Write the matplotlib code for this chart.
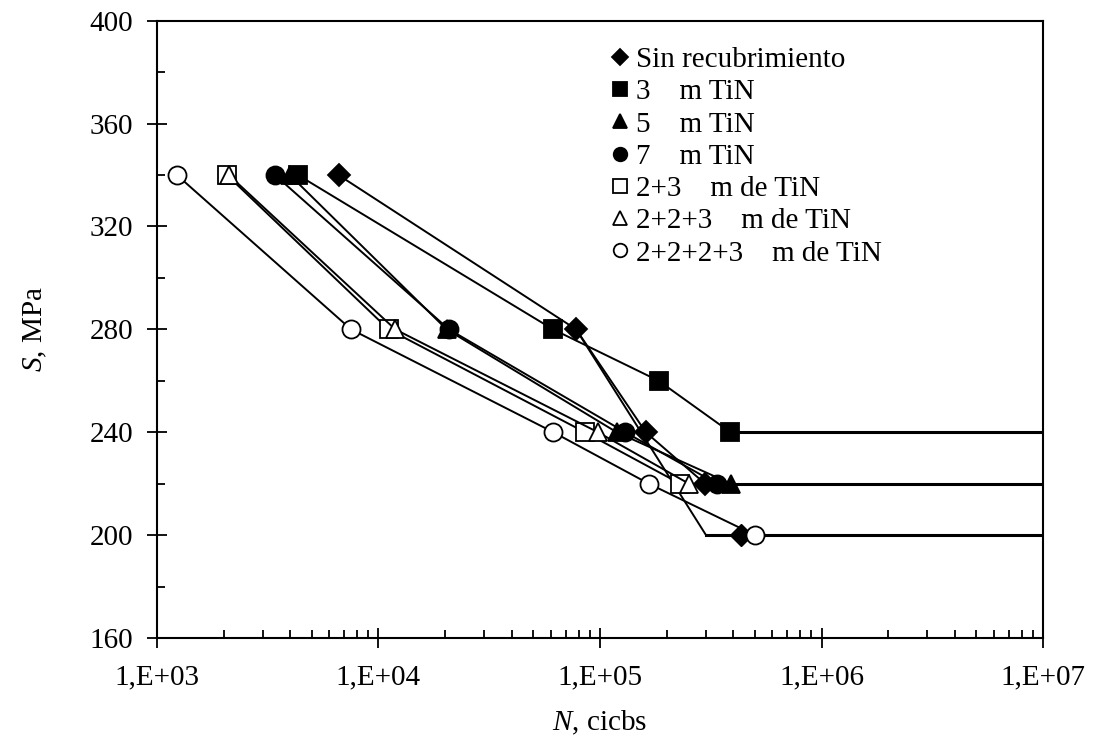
import matplotlib
matplotlib.use("Agg")
import matplotlib.pyplot as plt
from matplotlib.ticker import FixedLocator, LogLocator, NullFormatter, FuncFormatter, MultipleLocator

plt.rcParams['font.family'] = ['Liberation Serif', 'DejaVu Serif']
plt.rcParams['mathtext.fontset'] = 'custom'
plt.rcParams['mathtext.rm'] = 'Liberation Serif'
plt.rcParams['mathtext.it'] = 'Liberation Serif:italic'

# S-N data (cycles to failure, stress amplitude in MPa)
n_sin = [6.6e3, 7.8e4, 1.61e5, 2.98e5]
s_sin = [340, 280, 240, 220]
n_sin_200 = [4.33e5]
s_sin_200 = [200]

n_3um = [4.33e3, 6.14e4, 1.84e5, 3.88e5]
s_3um = [340, 280, 260, 240]

n_5um = [3.98e3, 2.03e4, 1.19e5, 3.90e5]
s_5um = [340, 280, 240, 220]

n_7um = [3.41e3, 2.08e4, 1.30e5, 3.37e5]
s_7um = [340, 280, 240, 220]

n_23 = [2.07e3, 1.11e4, 8.55e4, 2.30e5]
s_23 = [340, 280, 240, 220]

n_223 = [2.11e3, 1.19e4, 9.79e4, 2.52e5]
s_223 = [340, 280, 240, 220]

n_2223 = [1.23e3, 7.52e3, 6.16e4, 1.66e5, 5.01e5]
s_2223 = [340, 280, 240, 220, 200]

# run-out limits
n_run_240 = [3.88e5, 1e7]
s_run_240 = [240, 240]
n_run_220 = [3.90e5, 1e7]
s_run_220 = [220, 220]
n_run_200 = [7.8e4, 3.01e5, 1e7]
s_run_200 = [280, 200, 200]

legend_labels = ["Sin recubrimiento", "3    m TiN", "5    m TiN", "7    m TiN",
                 "2+3    m de TiN", "2+2+3    m de TiN", "2+2+2+3    m de TiN"]

x_ticks = [1e3, 1e4, 1e5, 1e6, 1e7]
x_tick_labels = ["1,E+03", "1,E+04", "1,E+05", "1,E+06", "1,E+07"]
y_ticks = [160, 200, 240, 280, 320, 360, 400]

fig = plt.figure(figsize=(10.94, 7.45), dpi=100)
ax = fig.add_axes([0.1435, 0.1436, 0.8099, 0.8286])

lw = 1.4
ax.plot(n_run_240, s_run_240, color='black', lw=2.2, zorder=2)
ax.plot(n_run_220, s_run_220, color='black', lw=2.2, zorder=2)
ax.plot(n_run_200, s_run_200, color='black', lw=lw, zorder=2)
ax.plot(n_run_200[1:], s_run_200[1:], color='black', lw=2.2, zorder=2)

ms = 13
series = [
    (n_sin, s_sin, 'D', 'black', ms * 0.85),
    (n_3um, s_3um, 's', 'black', ms),
    (n_5um, s_5um, '^', 'black', ms),
    (n_7um, s_7um, 'o', 'black', ms),
    (n_23, s_23, 's', 'white', ms),
    (n_223, s_223, '^', 'white', ms),
    (n_2223, s_2223, 'o', 'white', ms),
]
handles = []
for i, (n, s, m, fc, size) in enumerate(series):
    h, = ax.plot(n, s, color='black', lw=lw, marker=m, markersize=size,
                 markerfacecolor=fc, markeredgecolor='black', markeredgewidth=1.3,
                 zorder=3 + i)
    handles.append(h)
ax.plot(n_sin_200, s_sin_200, ls='none', marker='D', markersize=ms * 0.85,
        markerfacecolor='black', markeredgecolor='black', zorder=3)

ax.set_xscale('log')
ax.set_xlim(1e3, 1e7)
ax.set_ylim(160, 400)
ax.xaxis.set_major_locator(FixedLocator(x_ticks))
ax.xaxis.set_major_formatter(FuncFormatter(lambda v, p: x_tick_labels[x_ticks.index(v)] if v in x_ticks else ""))
ax.xaxis.set_minor_locator(LogLocator(base=10, subs=range(2, 10)))
ax.xaxis.set_minor_formatter(NullFormatter())
ax.yaxis.set_major_locator(FixedLocator(y_ticks))
ax.yaxis.set_minor_locator(MultipleLocator(20))

for sp in ax.spines.values():
    sp.set_linewidth(1.5)
ax.tick_params(axis='both', which='major', direction='inout', length=14, width=1.3,
               labelsize=21, colors='black')
ax.tick_params(axis='x', which='major', pad=12)
ax.tick_params(axis='y', which='major', pad=10)
ax.tick_params(axis='both', which='minor', direction='in', length=6, width=1.3)
ax.tick_params(top=False, right=False, which='both')

ax.set_xlabel(r"$\it{N}$, cicbs", fontsize=21, labelpad=13)
ax.set_ylabel(r"$\it{S}$, MPa", fontsize=21, labelpad=29)

leg = ax.legend(handles, legend_labels, loc='upper left', bbox_to_anchor=(0.513, 0.958),
                frameon=False, fontsize=21, handlelength=0.55, handletextpad=0.3,
                labelspacing=0.2, borderaxespad=0, borderpad=0, markerscale=0.75)
for lh in leg.legend_handles:
    lh.set_linestyle('none')

fig.savefig("out.png", dpi=100)
